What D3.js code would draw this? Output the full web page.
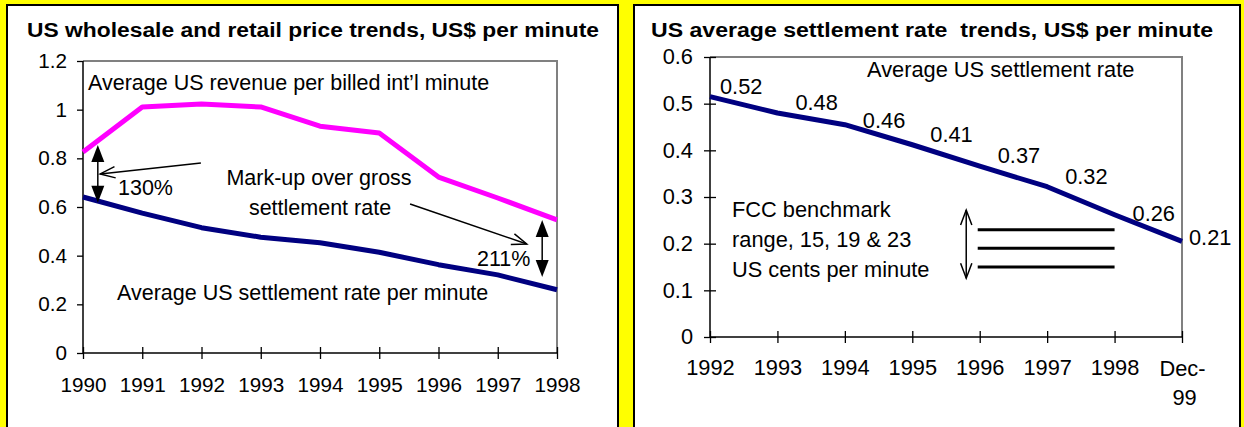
<!DOCTYPE html>
<html><head><meta charset="utf-8">
<script src="https://cdn.jsdelivr.net/npm/d3@7/dist/d3.min.js"></script>
<style>
body{margin:0;background:#ffff00;}
svg{display:block;}
text{font-family:"Liberation Sans",Arial,Helvetica,sans-serif;fill:#000;}
</style>
</head><body>
<svg id="c" width="1244" height="427"></svg>
<script>
// ---------- data ----------
const leftYears = ["1990","1991","1992","1993","1994","1995","1996","1997","1998"];
const revenuePerMinute = [0.826,1.011,1.023,1.011,0.932,0.904,0.723,0.637,0.547];
const settlementPerMinute = [0.641,0.575,0.515,0.476,0.453,0.414,0.363,0.321,0.260];
const leftYTicks = [0,0.2,0.4,0.6,0.8,1,1.2];
const leftYTickLabels = ["0","0.2","0.4","0.6","0.8","1","1.2"];

const rightPeriods = ["1992","1993","1994","1995","1996","1997","1998","Dec-99"];
const settlementRate = [0.515,0.480,0.455,0.412,0.366,0.322,0.262,0.205];
const settlementLabels = ["0.52","0.48","0.46","0.41","0.37","0.32","0.26","0.21"];
const rightYTicks = [0,0.1,0.2,0.3,0.4,0.5,0.6];
const rightYTickLabels = ["0","0.1","0.2","0.3","0.4","0.5","0.6"];
const fccBenchmarks = [0.15,0.19,0.23];

const leftTitle = "US wholesale and retail price trends, US$ per minute";
const rightTitle = "US average settlement rate  trends, US$ per minute";

// ---------- setup ----------
const svg = d3.select("#c");
const FS_L = 20.7, FS_LA = 21.5, FS_R = 21.8;
svg.append("rect").attr("x",0).attr("y",0).attr("width",1244).attr("height",427).attr("fill","#ffff00");
svg.append("rect").attr("x",7).attr("y",5).attr("width",611).attr("height",440)
   .attr("fill","#fff").attr("stroke","#000").attr("stroke-width",2);
svg.append("rect").attr("x",634).attr("y",5).attr("width",606).attr("height",440)
   .attr("fill","#fff").attr("stroke","#000").attr("stroke-width",2);

svg.append("text").attr("x",27).attr("y",37).attr("font-size",20).attr("font-weight","bold")
   .attr("textLength",572).attr("lengthAdjust","spacingAndGlyphs").style("white-space","pre").text(leftTitle);
svg.append("text").attr("x",651).attr("y",37).attr("font-size",20).attr("font-weight","bold")
   .attr("textLength",562).attr("lengthAdjust","spacingAndGlyphs").style("white-space","pre").text(rightTitle);

function filledDoubleArrow(g, x, y1, y2){
  const hl = 17, hw = 6.5;
  g.append("line").attr("x1",x).attr("x2",x).attr("y1",y1+hl-2).attr("y2",y2-hl+2)
    .attr("stroke","#000").attr("stroke-width",1.5);
  g.append("path").attr("d",`M${x},${y1}L${x-hw},${y1+hl}L${x+hw},${y1+hl}Z`).attr("fill","#000");
  g.append("path").attr("d",`M${x},${y2}L${x-hw},${y2-hl}L${x+hw},${y2-hl}Z`).attr("fill","#000");
}
function openHead(g, tx, ty, fx, fy){
  const a = Math.atan2(ty-fy, tx-fx), L = 16, s = 0.36;
  const p1 = [tx - L*Math.cos(a-s), ty - L*Math.sin(a-s)];
  const p2 = [tx - L*Math.cos(a+s), ty - L*Math.sin(a+s)];
  g.append("path").attr("d",`M${p1[0]},${p1[1]}L${tx},${ty}L${p2[0]},${p2[1]}`)
    .attr("fill","none").attr("stroke","#000").attr("stroke-width",1.5);
}
function openArrow(g, fx, fy, tx, ty){
  g.append("line").attr("x1",fx).attr("y1",fy).attr("x2",tx).attr("y2",ty)
    .attr("stroke","#000").attr("stroke-width",1.5);
  openHead(g, tx, ty, fx, fy);
}

// ---------- left chart ----------
{
  const g = svg.append("g");
  const x = d3.scalePoint().domain(leftYears).range([83,557]);
  const xi = d3.scaleLinear().domain([0,leftYears.length-1]).range([83,557]);
  const y = d3.scaleLinear().domain([0,1.2]).range([353,61]);

  g.append("path").attr("d",`M${x.range()[0]},${y(1.2)}H${x.range()[1]}V${y(0)}`)
   .attr("fill","none").attr("stroke","#808080").attr("stroke-width",2);

  const ya = g.append("g").attr("transform",`translate(83,0)`)
    .call(d3.axisLeft(y).tickValues(leftYTicks).tickFormat((d,i)=>leftYTickLabels[i]).tickSizeOuter(0).tickSize(6).tickPadding(10));
  const xa = g.append("g").attr("transform",`translate(0,353)`)
    .call(d3.axisBottom(x).tickSizeOuter(0).tickSize(6).tickPadding(0));
  [ya,xa].forEach(a=>{
    a.select(".domain").attr("stroke","#000").attr("stroke-width",1.5);
    a.selectAll(".tick line").attr("stroke","#000").attr("stroke-width",1.3);
    a.selectAll("text").attr("font-size",FS_L).attr("font-family",null);
  });
  xa.selectAll(".tick line").attr("y1",-6).attr("y2",6);
  xa.selectAll(".tick text").attr("y",39).attr("dy",null);
  xa.select(".domain").attr("d",`M83,0H557`);
  ya.select(".domain").attr("d",`M0,${y(0)}V${y(1.2)}`);

  const line = d3.line().x((d,i)=>x(leftYears[i])).y(d=>y(d));
  g.append("path").datum(revenuePerMinute).attr("d",line).attr("fill","none")
   .attr("stroke","#ff00ff").attr("stroke-width",5).attr("stroke-linejoin","round");
  g.append("path").datum(settlementPerMinute).attr("d",line).attr("fill","none")
   .attr("stroke","#000080").attr("stroke-width",5).attr("stroke-linejoin","round");

  g.append("text").attr("x",88).attr("y",90).attr("font-size",FS_LA).text("Average US revenue per billed int\u2019l minute");
  g.append("text").attr("x",319).attr("y",185).attr("font-size",FS_LA).attr("text-anchor","middle").text("Mark-up over gross");
  g.append("text").attr("x",320).attr("y",215).attr("font-size",FS_LA).attr("text-anchor","middle").text("settlement rate");
  g.append("text").attr("x",118).attr("y",195).attr("font-size",FS_LA).text("130%");
  g.append("text").attr("x",477).attr("y",266).attr("font-size",FS_LA).text("211%");
  g.append("text").attr("x",117).attr("y",300).attr("font-size",FS_LA).text("Average US settlement rate per minute");

  filledDoubleArrow(g, xi(0.25), y(0.855), y(0.617));
  openArrow(g, xi(1.99), y(0.781), xi(0.29), y(0.736));
  openArrow(g, xi(5.52), y(0.612), xi(7.49), y(0.448));
  filledDoubleArrow(g, xi(7.75), y(0.547), y(0.312));
}

// ---------- right chart ----------
{
  const g = svg.append("g");
  const x = d3.scalePoint().domain(rightPeriods).range([710,1182]);
  const xi = d3.scaleLinear().domain([0,rightPeriods.length-1]).range([710,1182]);
  const y = d3.scaleLinear().domain([0,0.6]).range([337,57]);

  g.append("path").attr("d",`M710,${y(0.6)}H1182V${y(0)}`)
   .attr("fill","none").attr("stroke","#808080").attr("stroke-width",2);

  const ya = g.append("g").attr("transform",`translate(710,0)`)
    .call(d3.axisLeft(y).tickValues(rightYTicks).tickFormat((d,i)=>rightYTickLabels[i]).tickSizeOuter(0).tickSize(6).tickPadding(11));
  const xa = g.append("g").attr("transform",`translate(0,337)`)
    .call(d3.axisBottom(x).tickSizeOuter(0).tickSize(6).tickPadding(0));
  [ya,xa].forEach(a=>{
    a.select(".domain").attr("stroke","#000").attr("stroke-width",1.5);
    a.selectAll(".tick line").attr("stroke","#000").attr("stroke-width",1.3);
    a.selectAll("text").attr("font-size",FS_R).attr("font-family",null);
  });
  ya.selectAll(".tick line").attr("x1",6);
  ya.select(".domain").attr("d",`M0,${y(0)}V${y(0.6)}`);
  xa.select(".domain").attr("d",`M710,0H1182`);
  xa.selectAll(".tick line").attr("y1",-6).attr("y2",6);
  xa.selectAll(".tick text").attr("y",38).attr("dy",null).each(function(d){
    const t = d3.select(this);
    if (d.indexOf("-")>=0){
      const parts = d.split("-");
      t.text(null);
      t.append("tspan").attr("x",0).attr("y",39).text(parts[0]+"-");
      t.append("tspan").attr("x",2).attr("y",68).text(parts[1]);
    }
  });

  const line = d3.line().x((d,i)=>x(rightPeriods[i])).y(d=>y(d));
  g.append("path").datum(settlementRate).attr("d",line).attr("fill","none")
   .attr("stroke","#000080").attr("stroke-width",5).attr("stroke-linejoin","round");

  const n = settlementRate.length;
  g.selectAll("text.lbl").data(settlementRate).join("text").attr("class","lbl")
   .attr("font-size",FS_R)
   .attr("x",(d,i)=>x(rightPeriods[i]) + (i===0?10:(i===n-1?7:18)))
   .attr("y",(d,i)=>y(d) + (i===n-2?6:(i===n-1?4:(i===2?3:-3))))
   .text((d,i)=>settlementLabels[i]);

  g.append("text").attr("x",867).attr("y",77).attr("font-size",FS_R).text("Average US settlement rate");
  ["FCC benchmark","range, 15, 19 & 23","US cents per minute"].forEach((s,i)=>{
    g.append("text").attr("x",732).attr("y",217+30*i).attr("font-size",FS_R).text(s);
  });

  g.selectAll("line.fcc").data(fccBenchmarks).join("line").attr("class","fcc")
   .attr("x1",x("1996")-2).attr("x2",x("1998")).attr("y1",d=>y(d)).attr("y2",d=>y(d))
   .attr("stroke","#000").attr("stroke-width",3);

  const ax = xi(3.8);
  g.append("line").attr("x1",ax).attr("x2",ax).attr("y1",y(0.272)).attr("y2",y(0.126))
   .attr("stroke","#000").attr("stroke-width",1.5);
  openHead(g, ax, y(0.272), ax, y(0.126));
  openHead(g, ax, y(0.126), ax, y(0.272));
}
</script>
</body></html>
